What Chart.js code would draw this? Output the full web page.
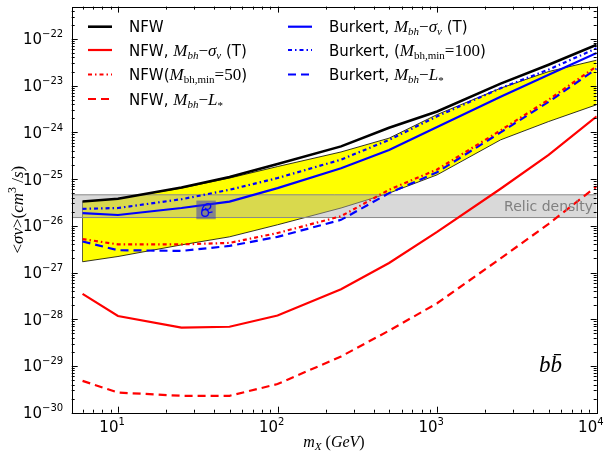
<!DOCTYPE html>
<html>
<head>
<meta charset="utf-8">
<script src="https://cdn.jsdelivr.net/npm/chart.js@4.4.1/dist/chart.umd.min.js"></script>
<style>
  html, body { margin: 0; padding: 0; background: #fff; }
  canvas { display: block; }
</style>
</head>
<body>
<canvas id="chart" width="605" height="455"></canvas>
<script>
// Dark matter mass grid (GeV)
const masses = [6, 10, 25, 50, 100, 250, 500, 1000, 2500, 5000, 10000];

// Upper limits on <sigma v> (cm^3/s), b-bbar channel
const nfw        = [3.3e-26, 3.8e-26, 6.6e-26, 1.1e-25, 2.1e-25, 5.0e-25, 1.25e-24, 2.8e-24, 1.1e-23, 2.8e-23, 7.5e-23];
const nfwSigma   = [3.5e-28, 1.17e-28, 6.6e-29, 6.9e-29, 1.2e-28, 4.4e-28, 1.6e-27, 7.4e-27, 6.2e-26, 3.3e-25, 2.2e-24];
const nfwMin50   = [5.2e-27, 4.0e-27, 4.0e-27, 4.3e-27, 7.0e-27, 1.6e-26, 5.9e-26, 1.6e-25, 1.1e-24, 5.0e-24, 2.6e-23];
const nfwLstar   = [4.8e-30, 2.7e-30, 2.3e-30, 2.3e-30, 4.1e-30, 1.6e-29, 5.7e-29, 2.2e-28, 2.0e-27, 1.1e-26, 7.0e-26];
const burSigma   = [1.86e-26, 1.7e-26, 2.4e-26, 3.3e-26, 6.4e-26, 1.7e-25, 4.2e-25, 1.3e-24, 5.8e-24, 1.7e-23, 5.0e-23];
const burMin100  = [2.3e-26, 2.4e-26, 3.7e-26, 5.9e-26, 1.05e-25, 2.6e-25, 6.9e-25, 2.2e-24, 8.8e-24, 2.2e-23, 6.3e-23];
const burLstar   = [4.6e-27, 3.0e-27, 2.9e-27, 3.7e-27, 5.8e-27, 1.34e-26, 5.0e-26, 1.4e-25, 1.0e-24, 4.5e-24, 2.3e-23];

// Uncertainty band (yellow)
const bandHigh = [3.3e-26, 3.8e-26, 6.4e-26, 1.05e-25, 1.85e-25, 3.8e-25, 7.5e-25, 2.4e-24, 8.8e-24, 2.0e-23, 3.5e-23];
const bandLow  = [1.7e-27, 2.2e-27, 3.9e-27, 5.8e-27, 1.05e-26, 2.4e-26, 5.0e-26, 1.23e-25, 6.9e-25, 1.7e-24, 3.9e-24];

// Thermal relic cross-section range
const relicRange = [1.5e-26, 4.6e-26];

// Axis limits and major ticks
const X_MIN = 5.13, X_MAX = 1e4;
const Y_MIN = 1e-30, Y_MAX = 4.9e-22;
const xTickExps = [1, 2, 3, 4];
const yTickExps = [-30, -29, -28, -27, -26, -25, -24, -23, -22];

const SANS = "'DejaVu Sans', sans-serif";
const MATH = "'Liberation Serif', 'DejaVu Serif', serif";
const F_TXT = '15px ' + SANS;
const F_IT = 'italic 17px ' + MATH;
const F_RM = '17px ' + MATH;
const F_SUBI = 'italic 11px ' + MATH;
const F_SUB = '11px ' + MATH;

const pts = ys => masses.map((m, i) => ({ x: m, y: ys[i] }));

// Legend labels as styled runs: [text, font, dy]
const labelNfw = [['NFW', F_TXT]];
const labelNfwSigma = [['NFW, ', F_TXT], ['M', F_IT], ['bh', F_SUBI, 3], ['\u2212', F_RM], ['\u03c3', F_IT], ['v', F_SUBI, 3], [' (T)', F_TXT]];
const labelNfwMin = [['NFW(', F_TXT], ['M', F_IT], ['bh,min', F_SUB, 3], ['=50', F_RM], [')', F_TXT]];
const labelNfwL = [['NFW, ', F_TXT], ['M', F_IT], ['bh', F_SUBI, 3], ['\u2212', F_RM], ['L', F_IT], ['*', F_SUB, 4]];
const labelBurSigma = [['Burkert, ', F_TXT], ['M', F_IT], ['bh', F_SUBI, 3], ['\u2212', F_RM], ['\u03c3', F_IT], ['v', F_SUBI, 3], [' (T)', F_TXT]];
const labelBurMin = [['Burkert, (', F_TXT], ['M', F_IT], ['bh,min', F_SUB, 3], ['=100', F_RM], [')', F_TXT]];
const labelBurL = [['Burkert, ', F_TXT], ['M', F_IT], ['bh', F_SUBI, 3], ['\u2212', F_RM], ['L', F_IT], ['*', F_SUB, 4]];

const DASH = [8, 5];
const DASHDOT = [4, 3, 1.5, 3];

function line(data, color, width, dash, legend, col, row) {
  return {
    data: pts(data), borderColor: color, borderWidth: width, borderDash: dash,
    fill: false, order: 0, legend: legend, legendCol: col, legendRow: row
  };
}

const datasets = [
  line(nfw, '#000000', 2.6, [], labelNfw, 0, 0),
  line(nfwSigma, '#ff0000', 2.2, [], labelNfwSigma, 0, 1),
  line(nfwMin50, '#ff0000', 2.2, DASHDOT, labelNfwMin, 0, 2),
  line(nfwLstar, '#ff0000', 2.2, DASH, labelNfwL, 0, 3),
  line(burSigma, '#0000ff', 2.2, [], labelBurSigma, 1, 0),
  line(burMin100, '#0000ff', 2.2, DASHDOT, labelBurMin, 1, 1),
  line(burLstar, '#0000ff', 2.2, DASH, labelBurL, 1, 2),
  // relic density band (indices 7, 8)
  { data: [{ x: X_MIN, y: relicRange[0] }, { x: X_MAX, y: relicRange[0] }], borderColor: '#8a8a8a', borderWidth: 1, fill: false, order: 5 },
  { data: [{ x: X_MIN, y: relicRange[1] }, { x: X_MAX, y: relicRange[1] }], borderColor: '#8a8a8a', borderWidth: 1, fill: { target: 7 }, backgroundColor: 'rgba(170,170,170,0.45)', order: 5 },
  // yellow band (indices 9, 10, 11)
  { data: pts(bandLow), borderColor: '#000000', borderWidth: 0.8, fill: false, order: 10 },
  { data: pts(bandHigh), borderColor: '#000000', borderWidth: 0.8, fill: { target: 9 }, backgroundColor: '#ffff00', order: 10 },
  { data: [{ x: masses[0], y: bandLow[0] }, { x: masses[0], y: bandHigh[0] }], borderColor: '#000000', borderWidth: 0.8, fill: false, order: 10 }
];

function drawRuns(ctx, x, y, parts, align) {
  let w = 0;
  for (const p of parts) { ctx.font = p[1]; w += ctx.measureText(p[0]).width; }
  let cx = align === 'right' ? x - w : (align === 'center' ? x - w / 2 : x);
  for (const p of parts) {
    ctx.font = p[1];
    ctx.fillText(p[0], cx, y + (p[2] || 0));
    cx += ctx.measureText(p[0]).width;
  }
  return w;
}

const decorations = {
  id: 'decorations',
  afterDatasetsDraw(chart) {
    const ctx = chart.ctx;
    const xs = chart.scales.x, ys = chart.scales.y;
    const a = chart.chartArea;
    ctx.save();

    // highlighted marker box on the Burkert curve
    const bx0 = xs.getPixelForValue(31), bx1 = xs.getPixelForValue(41);
    const by0 = ys.getPixelForValue(3.46e-26), by1 = ys.getPixelForValue(1.38e-26);
    ctx.fillStyle = 'rgba(50,50,190,0.5)';
    ctx.fillRect(bx0, by0, bx1 - bx0, by1 - by0);
    const cxm = (bx0 + bx1) / 2, cym = (by0 + by1) / 2;
    ctx.strokeStyle = '#0000ff';
    ctx.lineWidth = 1.3;
    ctx.beginPath();
    ctx.arc(cxm - 1, cym + 3, 3.4, 0, Math.PI * 2);
    ctx.moveTo(cxm - 4.4, cym + 3);
    ctx.bezierCurveTo(cxm - 4, cym - 5, cxm + 2, cym - 8, cxm + 4.5, cym - 5);
    ctx.bezierCurveTo(cxm + 5.5, cym - 1, cxm + 1, cym + 1, cxm - 1, cym - 2);
    ctx.moveTo(cxm + 2.4, cym + 3);
    ctx.lineTo(cxm + 6.5, cym + 2);
    ctx.stroke();

    // frame
    ctx.strokeStyle = '#000';
    ctx.lineWidth = 1;
    ctx.strokeRect(Math.round(a.left) + 0.5, Math.round(a.top) + 0.5, Math.round(a.right) - Math.round(a.left), Math.round(a.bottom) - Math.round(a.top));

    // inward ticks on all four sides
    ctx.beginPath();
    for (let e = 0; e <= 4; e++) {
      for (let k = 1; k <= 9; k++) {
        const v = k * Math.pow(10, e);
        if (v < X_MIN || v > X_MAX) continue;
        const px = Math.round(xs.getPixelForValue(v)) + 0.5;
        const len = k === 1 ? 6 : 3;
        ctx.moveTo(px, a.bottom); ctx.lineTo(px, a.bottom - len);
        ctx.moveTo(px, a.top); ctx.lineTo(px, a.top + len);
      }
    }
    for (let e = -30; e <= -22; e++) {
      for (let k = 1; k <= 9; k++) {
        const v = k * Math.pow(10, e);
        if (v < Y_MIN * 0.999 || v > Y_MAX) continue;
        const py = Math.round(ys.getPixelForValue(v)) + 0.5;
        const len = k === 1 ? 6 : 3;
        ctx.moveTo(a.left, py); ctx.lineTo(a.left + len, py);
        ctx.moveTo(a.right, py); ctx.lineTo(a.right - len, py);
      }
    }
    ctx.stroke();

    // tick labels
    ctx.fillStyle = '#000';
    ctx.textBaseline = 'alphabetic';
    for (const e of xTickExps) {
      const px = xs.getPixelForValue(Math.pow(10, e));
      ctx.font = '15px ' + SANS;
      ctx.textAlign = 'right';
      ctx.fillText('10', px + 0.5, a.bottom + 19);
      ctx.textAlign = 'left';
      ctx.font = '10px ' + SANS;
      ctx.fillText(String(e), px + 0.5, a.bottom + 12.5);
    }
    for (const e of yTickExps) {
      const py = ys.getPixelForValue(Math.pow(10, e));
      ctx.textAlign = 'left';
      drawRuns(ctx, a.left - 8.5, py + 5.5, [['10', '15px ' + SANS], ['\u2212' + String(-e), '10px ' + SANS, -7]], 'right');
    }

    // axis titles
    ctx.textAlign = 'left';
    drawRuns(ctx, 334, 447, [['m', 'italic 16px ' + MATH], ['X', 'italic 11px ' + MATH, 3], [' (', '16px ' + MATH], ['GeV', 'italic 16px ' + MATH], [')', '16px ' + MATH]], 'center');
    ctx.save();
    ctx.translate(23, (a.top + a.bottom) / 2);
    ctx.rotate(-Math.PI / 2);
    drawRuns(ctx, 0, 0, [['<', '17px ' + MATH], ['\u03c3v', 'italic 17px ' + MATH], ['>', '17px ' + MATH], ['(', '17px ' + MATH], ['cm', 'italic 17px ' + MATH], ['3', '12px ' + MATH, -7], [' /', '17px ' + MATH], ['s', 'italic 17px ' + MATH], [')', '17px ' + MATH]], 'center');
    ctx.restore();

    // relic density label and channel label
    ctx.fillStyle = '#808080';
    ctx.font = '14px ' + SANS;
    ctx.textAlign = 'right';
    ctx.fillText('Relic density', 593, ys.getPixelForValue(Math.sqrt(relicRange[0] * relicRange[1])) + 5);
    ctx.fillStyle = '#000';
    ctx.textAlign = 'left';
    ctx.font = 'italic 23px ' + MATH;
    ctx.fillText('bb\u0304', 539, 372);

    // legend
    const colX = [88, 288], rowY = [26.7, 50, 74.5, 99];
    chart.data.datasets.forEach(ds => {
      if (!ds.legend) return;
      const lx = colX[ds.legendCol], ly = rowY[ds.legendRow];
      ctx.strokeStyle = ds.borderColor;
      ctx.lineWidth = ds.borderWidth;
      ctx.setLineDash(ds.borderDash || []);
      ctx.beginPath();
      ctx.moveTo(lx, ly); ctx.lineTo(lx + 24, ly);
      ctx.stroke();
      ctx.setLineDash([]);
      ctx.fillStyle = '#000';
      ctx.textAlign = 'left';
      drawRuns(ctx, lx + 41, ly + 5.5, ds.legend, 'left');
    });
    ctx.restore();
  }
};

new Chart(document.getElementById('chart'), {
  type: 'line',
  data: { datasets: datasets },
  options: {
    responsive: false,
    animation: false,
    layout: { padding: { left: 71.7, right: 8.3, top: 6.6, bottom: 42.3 } },
    elements: { point: { radius: 0 }, line: { tension: 0 } },
    scales: {
      x: { type: 'logarithmic', min: X_MIN, max: X_MAX, display: false },
      y: { type: 'logarithmic', min: Y_MIN, max: Y_MAX, display: false }
    },
    plugins: { legend: { display: false }, tooltip: { enabled: false } }
  },
  plugins: [decorations]
});
</script>
</body>
</html>
